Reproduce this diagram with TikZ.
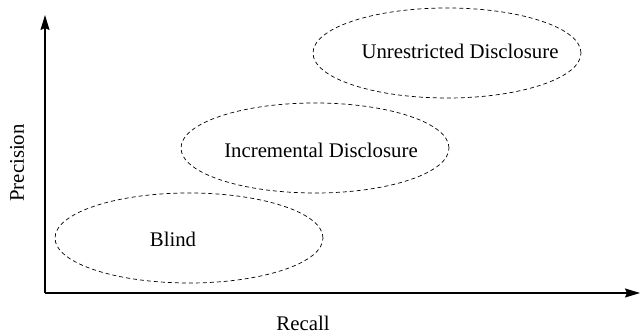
\documentclass[tikz,border=0pt]{standalone}
\usepackage{fontspec}
\setmainfont{Liberation Serif}
\usetikzlibrary{arrows.meta,shapes,positioning}

\tikzset{
    region/.style={draw,ellipse,dashed,dash pattern=on 4pt off 3pt,line width=0.7pt,
        minimum width=268pt,minimum height=90pt},
    axis/.style={line width=1.4pt,-{Stealth[length=15pt,width=9pt,inset=2pt]}},
    txt/.style={inner sep=0pt,font=\fontsize{20.8}{24}\selectfont}
}

\begin{document}
\begin{tikzpicture}[x=1pt,y=1pt]
    \useasboundingbox (0,0) rectangle (641,335);
    % axes
    \coordinate (origin) at (45,42);
    \coordinate (ytop) at (45,320);
    \coordinate (xend) at (640,42);
    \draw[axis] (origin) -- (ytop);
    \draw[axis] (origin) -- (xend);
    \node[txt,rotate=90] (precision) at (17,172) {Precision};
    \node[txt] (recall) at (303,12) {Recall};
    % regions
    \node[region] (blind) at (189,97) {};
    \node[region] (incr) at (315,187) {};
    \node[region] (unres) at (447,282) {};
    \node[txt] (blindtxt) at (173,96) {Blind};
    \node[txt] (incrtxt) at (321,185) {Incremental Disclosure};
    \node[txt] (unrestxt) at (460,284) {Unrestricted Disclosure};
\end{tikzpicture}
\end{document}
